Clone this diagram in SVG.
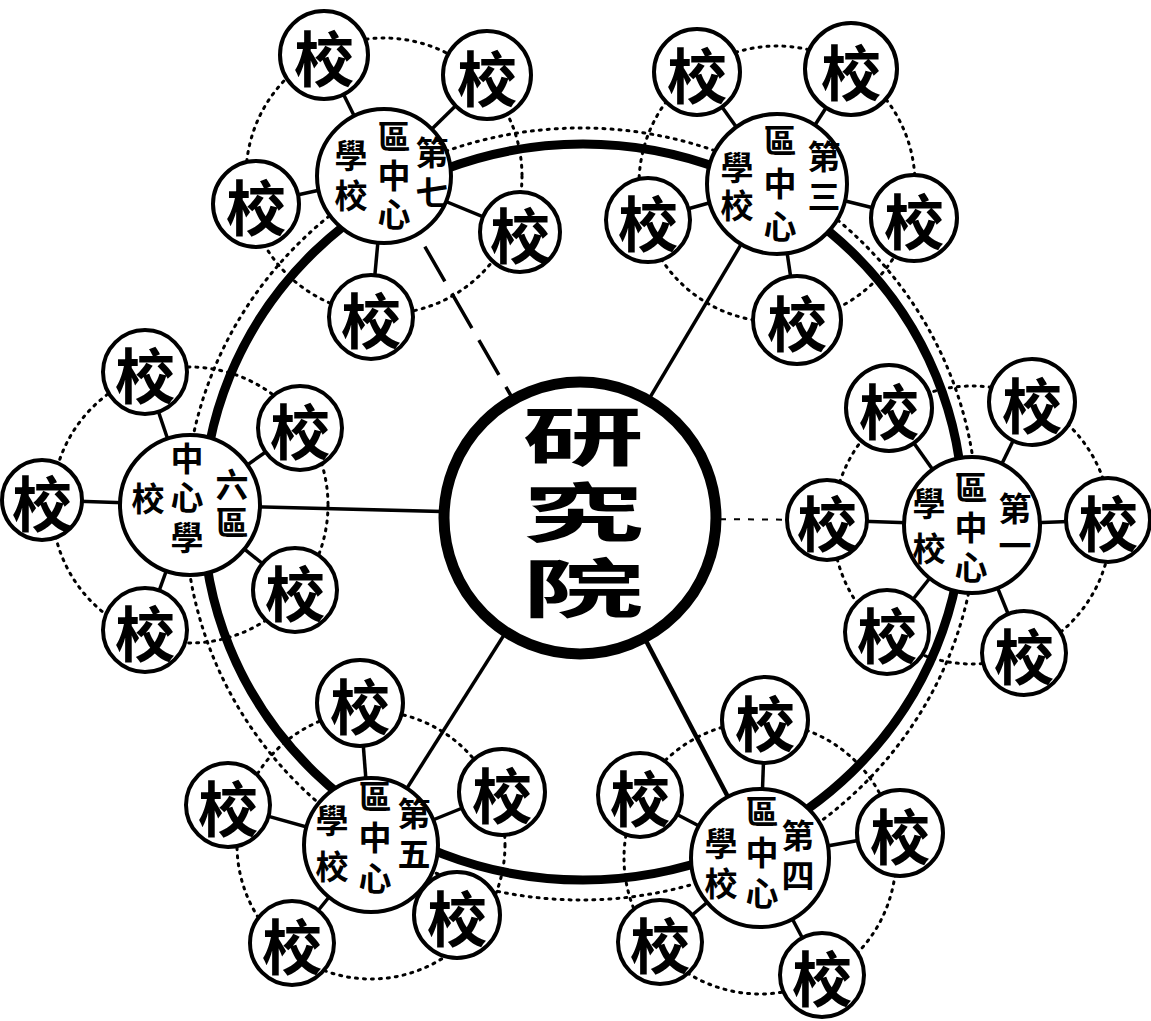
<svg xmlns="http://www.w3.org/2000/svg" width="1151" height="1021" viewBox="0 0 1151 1021">
<style>
.bg{fill:#fff}
.ring{fill:none;stroke:#000;stroke-width:9}
.dots{fill:none;stroke:#000;stroke-width:3;stroke-dasharray:2 6;stroke-linecap:round}
.spoke{stroke:#000;stroke-width:3.5;fill:none}
.stub{stroke:#000;stroke-width:3.5}
.dash{stroke:#000;stroke-width:3.5;stroke-dasharray:40 14}
.fdash{stroke:#000;stroke-width:2;stroke-dasharray:6 8}
.hub{fill:#fff;stroke:#000;stroke-width:11}
.dist{fill:#fff;stroke:#000;stroke-width:4}
.sch{fill:#fff;stroke:#000;stroke-width:4}
text{font-family:"Noto Sans CJK TC","Noto Sans CJK SC",sans-serif;font-weight:700;fill:#000;text-anchor:middle;dominant-baseline:central}
.v{writing-mode:vertical-rl;text-orientation:upright}
.s{font-size:60px}
.d{font-size:33px}
.h{font-size:64px;letter-spacing:12px}
</style>
<rect class="bg" x="0" y="0" width="1151" height="1021"/>
<g id="connectors">
  <ellipse class="dots" cx="581" cy="514" rx="396" ry="386"/>
  <ellipse class="ring" cx="583" cy="512" rx="380" ry="368"/>
  <circle class="dots" cx="384" cy="176" r="138"/>
  <circle class="dots" cx="777" cy="184" r="138"/>
  <circle class="dots" cx="972" cy="525" r="139"/>
  <circle class="dots" cx="760" cy="858" r="136"/>
  <circle class="dots" cx="371" cy="845" r="134"/>
  <circle class="dots" cx="190" cy="505" r="138"/>
  <line class="dash" x1="580" y1="515" x2="384" y2="176"/>
  <line class="spoke" x1="580" y1="515" x2="777" y2="184"/>
  <line class="fdash" x1="580" y1="518" x2="827" y2="520"/>
  <line class="stub" x1="827" y1="520" x2="972" y2="525"/>
  <line class="spoke" x1="580" y1="515" x2="190" y2="505"/>
  <line class="spoke" x1="580" y1="515" x2="371" y2="845"/>
  <line class="spoke" x1="580" y1="515" x2="760" y2="858" style="stroke-width:4.5"/>
  <line class="stub" x1="384" y1="176" x2="324" y2="55"/>
  <line class="stub" x1="384" y1="176" x2="487" y2="75"/>
  <line class="stub" x1="384" y1="176" x2="256" y2="204"/>
  <line class="stub" x1="384" y1="176" x2="520" y2="232"/>
  <line class="stub" x1="384" y1="176" x2="371" y2="317"/>
  <line class="stub" x1="777" y1="184" x2="697" y2="72"/>
  <line class="stub" x1="777" y1="184" x2="851" y2="69"/>
  <line class="stub" x1="777" y1="184" x2="914" y2="218"/>
  <line class="stub" x1="777" y1="184" x2="648" y2="220"/>
  <line class="stub" x1="777" y1="184" x2="797" y2="320"/>
  <line class="stub" x1="972" y1="525" x2="889" y2="408"/>
  <line class="stub" x1="972" y1="525" x2="1032" y2="402"/>
  <line class="stub" x1="972" y1="525" x2="1108" y2="520"/>
  <line class="stub" x1="972" y1="525" x2="1024" y2="653"/>
  <line class="stub" x1="972" y1="525" x2="887" y2="632"/>
  <line class="stub" x1="760" y1="858" x2="765" y2="720"/>
  <line class="stub" x1="760" y1="858" x2="640" y2="795"/>
  <line class="stub" x1="760" y1="858" x2="900" y2="833"/>
  <line class="stub" x1="760" y1="858" x2="660" y2="942"/>
  <line class="stub" x1="760" y1="858" x2="822" y2="975"/>
  <line class="stub" x1="371" y1="845" x2="360" y2="703"/>
  <line class="stub" x1="371" y1="845" x2="228" y2="805"/>
  <line class="stub" x1="371" y1="845" x2="502" y2="792"/>
  <line class="stub" x1="371" y1="845" x2="292" y2="943"/>
  <line class="stub" x1="371" y1="845" x2="457" y2="915"/>
  <line class="stub" x1="190" y1="505" x2="145" y2="372"/>
  <line class="stub" x1="190" y1="505" x2="42" y2="500"/>
  <line class="stub" x1="190" y1="505" x2="145" y2="630"/>
  <line class="stub" x1="190" y1="505" x2="300" y2="428"/>
  <line class="stub" x1="190" y1="505" x2="295" y2="590"/>
</g>
<g id="hub">
  <circle class="hub" cx="580" cy="518" r="136"/>
  <text class="h v" transform="translate(583,518) scale(1.9,1)">研究院</text>
</g>
<g id="district7">
  <circle class="dist" cx="384" cy="176" r="67"/>
  <text class="d v" x="432" y="176" style="letter-spacing:7px">第七</text>
  <text class="d v" x="394" y="178" style="letter-spacing:6px">區中心</text>
  <text class="d v" x="351" y="179" style="letter-spacing:7px">學校</text>
</g>
<g id="district3">
  <circle class="dist" cx="777" cy="184" r="70"/>
  <text class="d v" x="824" y="180" style="letter-spacing:7px">第三</text>
  <text class="d v" x="780" y="188" style="letter-spacing:10px">區中心</text>
  <text class="d v" x="737" y="189" style="letter-spacing:5px">學校</text>
</g>
<g id="district1">
  <circle class="dist" cx="972" cy="525" r="68"/>
  <text class="d v" x="1015" y="529" style="letter-spacing:4px">第一</text>
  <text class="d v" x="971" y="530.5" style="letter-spacing:7px">區中心</text>
  <text class="d v" x="929" y="532" style="letter-spacing:12px">學校</text>
</g>
<g id="district4">
  <circle class="dist" cx="760" cy="858" r="69"/>
  <text class="d v" x="798" y="859" style="letter-spacing:7px">第四</text>
  <text class="d v" x="762" y="856" style="letter-spacing:8px">區中心</text>
  <text class="d v" x="721" y="867" style="letter-spacing:7px">學校</text>
</g>
<g id="district5">
  <circle class="dist" cx="371" cy="845" r="67"/>
  <text class="d v" x="414" y="837" style="letter-spacing:7px">第五</text>
  <text class="d v" x="375" y="841" style="letter-spacing:8px">區中心</text>
  <text class="d v" x="332" y="850" style="letter-spacing:13px">學校</text>
</g>
<g id="district6">
  <circle class="dist" cx="190" cy="505" r="70"/>
  <text class="d v" x="232" y="506" style="letter-spacing:5px">六區</text>
  <text class="d v" x="187" y="501" style="letter-spacing:6.5px">中心學</text>
  <text class="d" x="148" y="497">校</text>
</g>
<g id="schools7">
  <g id="s7a"><circle class="sch" cx="324" cy="55" r="44"/><text class="s" x="324" y="55">校</text></g>
  <g id="s7b"><circle class="sch" cx="487" cy="75" r="44"/><text class="s" x="487" y="75">校</text></g>
  <g id="s7c"><circle class="sch" cx="256" cy="204" r="43"/><text class="s" x="256" y="204">校</text></g>
  <g id="s7d"><circle class="sch" cx="520" cy="232" r="40"/><text class="s" x="520" y="232">校</text></g>
  <g id="s7e"><circle class="sch" cx="371" cy="317" r="42"/><text class="s" x="371" y="317">校</text></g>
</g>
<g id="schools3">
  <g id="s3a"><circle class="sch" cx="697" cy="72" r="43"/><text class="s" x="697" y="72">校</text></g>
  <g id="s3b"><circle class="sch" cx="851" cy="69" r="46"/><text class="s" x="851" y="69">校</text></g>
  <g id="s3c"><circle class="sch" cx="914" cy="218" r="43"/><text class="s" x="914" y="218">校</text></g>
  <g id="s3d"><circle class="sch" cx="648" cy="220" r="42"/><text class="s" x="648" y="220">校</text></g>
  <g id="s3e"><circle class="sch" cx="797" cy="320" r="44"/><text class="s" x="797" y="320">校</text></g>
</g>
<g id="schools1">
  <g id="s1a"><circle class="sch" cx="889" cy="408" r="43"/><text class="s" x="889" y="408">校</text></g>
  <g id="s1b"><circle class="sch" cx="1032" cy="402" r="43"/><text class="s" x="1032" y="402">校</text></g>
  <g id="s1c"><circle class="sch" cx="1108" cy="520" r="42"/><text class="s" x="1108" y="520">校</text></g>
  <g id="s1d"><circle class="sch" cx="1024" cy="653" r="42"/><text class="s" x="1024" y="653">校</text></g>
  <g id="s1e"><circle class="sch" cx="887" cy="632" r="42"/><text class="s" x="887" y="632">校</text></g>
  <g id="s1f"><circle class="sch" cx="827" cy="520" r="40"/><text class="s" x="827" y="520">校</text></g>
</g>
<g id="schools4">
  <g id="s4a"><circle class="sch" cx="765" cy="720" r="43"/><text class="s" x="765" y="720">校</text></g>
  <g id="s4b"><circle class="sch" cx="640" cy="795" r="42"/><text class="s" x="640" y="795">校</text></g>
  <g id="s4c"><circle class="sch" cx="900" cy="833" r="43"/><text class="s" x="900" y="833">校</text></g>
  <g id="s4d"><circle class="sch" cx="660" cy="942" r="42"/><text class="s" x="660" y="942">校</text></g>
  <g id="s4e"><circle class="sch" cx="822" cy="975" r="42"/><text class="s" x="822" y="975">校</text></g>
</g>
<g id="schools5">
  <g id="s5a"><circle class="sch" cx="360" cy="703" r="43"/><text class="s" x="360" y="703">校</text></g>
  <g id="s5b"><circle class="sch" cx="228" cy="805" r="42"/><text class="s" x="228" y="805">校</text></g>
  <g id="s5c"><circle class="sch" cx="502" cy="792" r="43"/><text class="s" x="502" y="792">校</text></g>
  <g id="s5d"><circle class="sch" cx="292" cy="943" r="42"/><text class="s" x="292" y="943">校</text></g>
  <g id="s5e"><circle class="sch" cx="457" cy="915" r="43"/><text class="s" x="457" y="915">校</text></g>
</g>
<g id="schools6">
  <g id="s6a"><circle class="sch" cx="145" cy="372" r="42"/><text class="s" x="145" y="372">校</text></g>
  <g id="s6b"><circle class="sch" cx="42" cy="500" r="40"/><text class="s" x="42" y="500">校</text></g>
  <g id="s6c"><circle class="sch" cx="145" cy="630" r="42"/><text class="s" x="145" y="630">校</text></g>
  <g id="s6d"><circle class="sch" cx="300" cy="428" r="42"/><text class="s" x="300" y="428">校</text></g>
  <g id="s6e"><circle class="sch" cx="295" cy="590" r="42"/><text class="s" x="295" y="590">校</text></g>
</g>
</svg>
